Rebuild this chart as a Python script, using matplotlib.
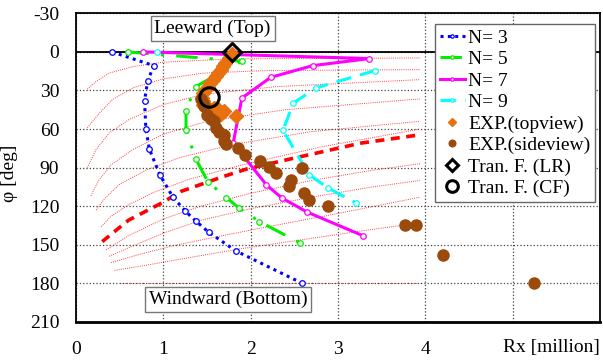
import matplotlib

matplotlib.use("Agg")
import matplotlib.pyplot as plt

plt.rcParams["font.family"] = ["Liberation Serif", "DejaVu Serif"]
plt.rcParams["font.size"] = 14
plt.rcParams["axes.unicode_minus"] = False

# panel model results: Rx [million] vs phi [deg]
n3_x = [0.41, 0.89, 0.82, 0.785, 0.80, 0.84, 0.96, 1.11, 1.25, 1.37, 1.52, 1.83, 2.59]
n3_y = [0, 10.7, 22.9, 38, 60, 75.6, 95.6, 113, 123.7, 131.5, 140.3, 154.8, 180]
n5_x = [0.59, 1.90, 1.37, 1.26, 1.26, 1.37, 1.51, 1.72, 1.87, 2.10, 2.56]
n5_y = [0, 7.3, 27, 45.7, 61, 83, 101, 113.3, 121.6, 132, 148.4]
n7_x = [0.77, 3.36, 2.71, 2.23, 1.90, 1.80, 2.18, 2.36, 2.65, 3.29]
n7_y = [0, 5.2, 10.7, 19.8, 35.9, 71, 103.4, 113.8, 124.7, 143.1]
n9_x = [0.93, None, 3.42, 2.75, 2.49, 2.37, 2.67, 2.89, 3.21]
n9_y = [0, None, 14.6, 28, 39.8, 61, 95.6, 106, 117.7]

# experiments
top_x = [1.79, 1.75, 1.71, 1.68, 1.655, 1.63, 1.60, 1.57, 1.54, 1.51, 1.48, 1.46,
         1.445, 1.45, 1.46, 1.50, 1.54, 1.58, 1.635, 1.69, 1.66, 1.83]
top_y = [2, 5, 8.6, 11, 13.8, 16.5, 19, 21.5, 24, 27, 29.4, 32,
         35.8, 38.5, 41, 43, 45, 44, 45, 46, 48, 50.2]
side_x = [1.43, 1.45, 1.463, 1.50, 1.55, 1.58, 1.60, 1.64, 1.69, 1.69, 1.72, 1.85,
          1.94, 2.11, 2.21, 2.29, 2.59, 2.46, 2.44, 2.61, 2.67, 2.88, 3.77, 3.89,
          4.20, 5.25]
side_y = [37, 40, 42.4, 48.9, 52, 54, 59.2, 62, 64.4, 69.7, 72, 74.8,
          80, 84.5, 89.6, 94.3, 90.4, 99.5, 104.7, 109.9, 115, 119.8, 135, 135,
          158, 180]
lr_x, lr_y = [1.79], [0.3]
cf_x, cf_y = [1.52], [35]

# background iso-curves (thin red dotted) and the bold one
iso_curves = [
    ([0.13, 3.94], [0, 0]),
    ([0.13, 0.23, 0.38, 0.65, 1.0, 1.77, 3.94], [29, 23, 16.5, 11.5, 8, 5.5, 4.7]),
    ([0.13, 0.27, 0.42, 0.65, 1.0, 1.46, 2.2, 3.94], [59, 47.5, 37, 28, 21, 16.5, 14.5, 13.8]),
    ([0.13, 0.23, 0.38, 0.61, 1.0, 1.46, 2.3, 3.94], [90, 76, 63, 52.5, 41, 33, 27, 21.6]),
    ([0.17, 0.26, 0.4, 0.65, 1.0, 1.5, 2.4, 3.94], [112, 100, 88, 76, 64, 54, 45, 36.6]),
    ([0.23, 0.33, 0.5, 0.8, 1.2, 1.8, 2.7, 3.94], [123, 114, 103, 92, 82, 72, 62, 54]),
    ([0.29, 0.4, 0.6, 0.9, 1.3, 1.9, 2.8, 3.94], [136, 128, 119, 109, 99, 88, 74, 60]),
    ([0.345, 0.6, 1.0, 1.43, 2.0, 2.7, 3.4, 3.94], [154, 143, 130, 120, 110, 100, 92, 87]),
    ([0.38, 0.65, 1.0, 1.43, 2.0, 2.7, 3.4, 3.94], [159, 151, 141, 131, 122, 113, 105, 100]),
    ([0.40, 0.7, 1.1, 1.6, 2.2, 2.9, 3.5, 3.94], [164, 158, 151, 144, 136, 127, 119, 113]),
    ([0.44, 0.8, 1.3, 1.9, 2.6, 3.3, 3.94], [170, 166, 160, 153, 146, 139, 133]),
    ([0.5, 3.94], [180, 180]),
]
bold_x = [0.30, 0.6, 1.0, 1.2, 1.69, 1.96, 2.5, 3.26, 3.94]
bold_y = [147.6, 131, 116.9, 108.6, 96.9, 91, 82.6, 71, 64.5]

fig = plt.figure(figsize=(6.03, 3.6), dpi=100)
ax = fig.add_axes([0.126, 0.106, 0.869, 0.857])

for cx, cy in iso_curves:
    ax.plot(cx, cy, ls=(0, (1, 1.2)), color="#ff4040", lw=0.7, zorder=1)
ax.plot(bold_x, bold_y, ls=(0, (2.5, 1.8)), color="#ff0000", lw=2.6, zorder=2)
ax.axhline(0, color="black", lw=1.3, zorder=2)

mk = dict(marker="o", ms=4, mfc="white", mew=0.9)
ax.plot(n3_x, n3_y, ls=(0, (1, 1.4)), color="#0000ff", lw=2.2, mec="#0000ff", label="N= 3", zorder=3, **mk)
ax.plot(n5_x, n5_y, ls=(0, (7, 4, 1, 4)), color="#00ee00", lw=2.2, mec="#00ee00", label="N= 5", zorder=3, **mk)
ax.plot(n7_x, n7_y, ls="-", color="#ff00ff", lw=2.2, mec="#ff00ff", label="N= 7", zorder=3, **mk)
n9_xf = [float("nan") if v is None else v for v in n9_x]
n9_yf = [float("nan") if v is None else v for v in n9_y]
ax.plot(n9_xf, n9_yf, ls=(0, (5, 3)), color="#00ffff", lw=2.2, mec="#00ffff", label="N= 9", zorder=3, **mk)

ax.plot(top_x, top_y, ls="none", marker="D", ms=7, color="#e8700e", label="EXP.(topview)", zorder=4)
ax.plot(side_x, side_y, ls="none", marker="o", ms=8, color="#9c4a0c", label="EXP.(sideview)", zorder=4)
ax.plot(lr_x, lr_y, ls="none", marker="D", ms=9.5, mfc="none", mec="black", mew=2.2,
        label="Tran. F. (LR)", zorder=5)
ax.plot(cf_x, cf_y, ls="none", marker="o", ms=14, mfc="none", mec="black", mew=2.2,
        label="Tran. F. (CF)", zorder=5)

ax.set_xlim(0, 6)
ax.set_ylim(210, -30)
ax.set_xticks([0, 1, 2, 3, 4, 5, 6])
ax.set_xticklabels(["0", "1", "2", "3", "4", "", ""])
ax.set_yticks(range(-30, 211, 30))
ax.tick_params(length=0)
ax.tick_params(axis="y", pad=12)
ax.tick_params(axis="x", pad=14)
ax.grid(True, ls=":", color="#444444", lw=0.9)
for s in ax.spines.values():
    s.set_linewidth(1.3)
ax.spines["bottom"].set_linewidth(2)

ax.set_ylabel("φ [deg]")
ax.yaxis.set_label_coords(-0.11, 0.48)
fig.text(0.995, 0.035, "Rx [million]", ha="right", va="center")

box = dict(boxstyle="square,pad=0.2", fc="white", ec="#777777", lw=1)
ax.text(1.565, -18.2, "Leeward (Top)", ha="center", va="center", bbox=box, zorder=6)
ax.text(1.74, 192.3, "Windward (Bottom)", ha="center", va="center", bbox=box, zorder=6)

leg = ax.legend(loc="upper left", bbox_to_anchor=(0.685, 0.965), fancybox=False,
                edgecolor="#666666", framealpha=1, handlelength=1.3, handletextpad=0.15,
                labelspacing=0.2, borderpad=0.25, borderaxespad=0, numpoints=1,
                markerscale=0.6)
leg.get_frame().set_linewidth(1)

fig.savefig("out.png", dpi=100)
